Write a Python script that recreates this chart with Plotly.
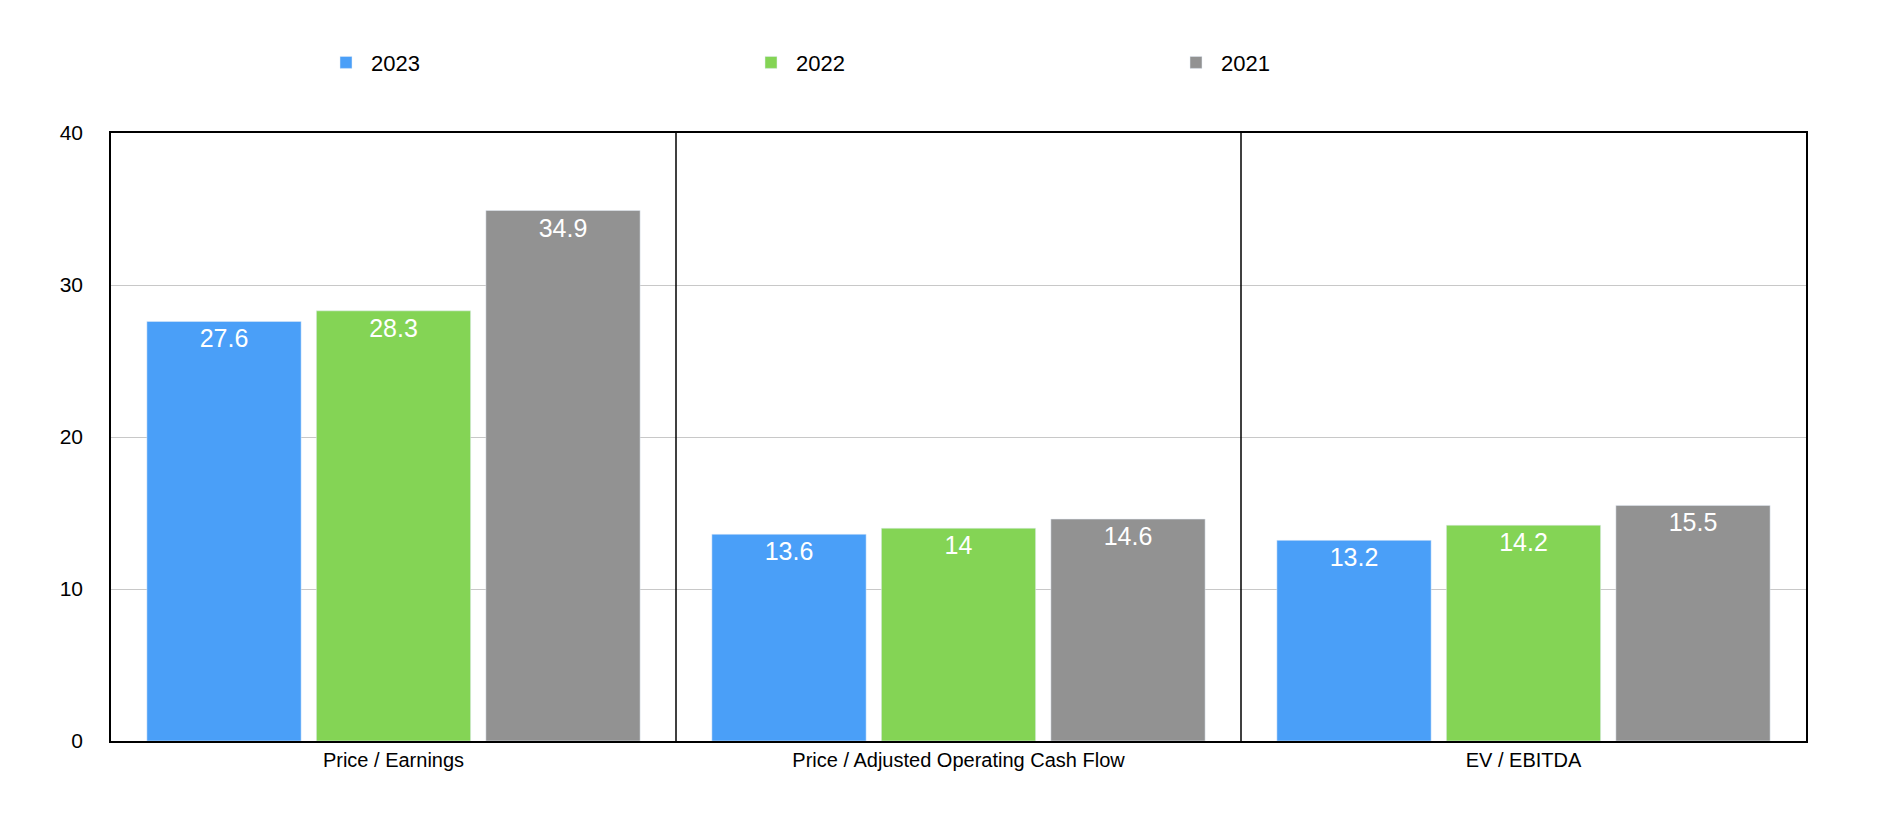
import plotly.graph_objects as go

categorias = ["Price / Earnings", "Price / Adjusted Operating Cash Flow", "EV / EBITDA"]
anos = ["2023", "2022", "2021"]
valores_2023 = [27.6, 13.6, 13.2]
valores_2022 = [28.3, 14, 14.2]
valores_2021 = [34.9, 14.6, 15.5]
cores = ["#4A9FF8", "#84D455", "#929292"]

fig = go.Figure()
for ano, vals, cor in zip(anos, [valores_2023, valores_2022, valores_2021], cores):
    fig.add_trace(go.Bar(
        x=categorias, y=vals, name=ano, marker_color=cor,
        text=[str(v) for v in vals], textposition="inside", insidetextanchor="end",
        textfont=dict(color="white", size=25), cliponaxis=False,
    ))

# linhas verticais entre categorias
for xpos in [0.5, 1.5]:
    fig.add_shape(type="line", xref="x", yref="paper", x0=xpos, x1=xpos, y0=0, y1=1,
                  line=dict(color="black", width=1.5))

fig.update_layout(
    width=1900, height=840,
    plot_bgcolor="white", paper_bgcolor="white",
    font=dict(family="Liberation Sans, Arial", size=20, color="black"),
    barmode="group", bargap=0.1, bargroupgap=0.09,
    margin=dict(l=103, r=102, t=125, b=107),
    legend=dict(orientation="h", x=0.5, xanchor="center", yref="container",
                y=0.935, yanchor="middle",
                font=dict(size=22), itemwidth=40, entrywidth=370),
)
fig.update_xaxes(showline=True, linecolor="black", linewidth=1.5, mirror=True, ticks="")
fig.update_yaxes(range=[0, 40], dtick=10, showgrid=True, gridcolor="#C8C8C8",
                 showline=True, linecolor="black", linewidth=1.5, mirror=True,
                 ticklabelstandoff=22, zeroline=False, tickfont=dict(size=21))

fig.write_html("out.html")
